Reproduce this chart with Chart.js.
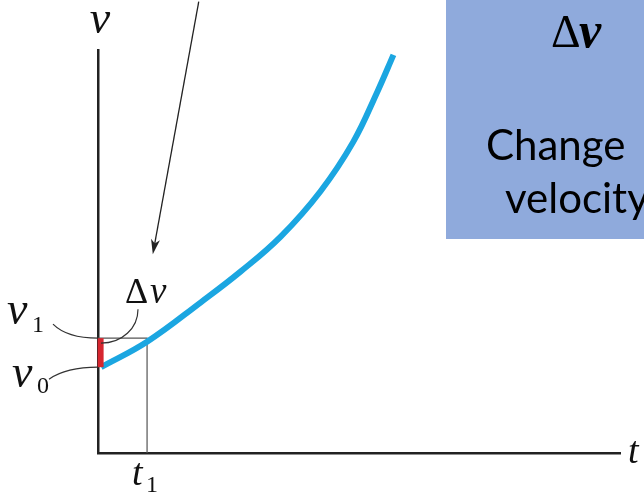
<!DOCTYPE html>
<html>
<head>
<meta charset="utf-8">
<script src="https://cdn.jsdelivr.net/npm/chart.js@4.4.0/dist/chart.umd.min.js"></script>
<style>
  html, body { margin: 0; padding: 0; background: #fff; }
  #wrap { width: 644px; height: 492px; }
</style>
</head>
<body>
<div id="wrap"><canvas id="velChart" width="644" height="492"></canvas></div>
<script>
// v(t) curve (arbitrary units)
const curveT = [0.06, 0.94, 1.97, 2.73, 3.50, 4.26, 4.89, 5.35, 5.66];
const curveV = [2.13, 2.76, 3.74, 4.50, 5.37, 6.49, 7.72, 8.96, 9.88];

const t1 = 0.94;
const v0 = 2.13;
const v1 = 2.85;

const tMax = 10;
const vMax = 10;

// arrow pointing down at the delta v (starts above the plot)
const arrowFrom = [1.93, 11.2];
const arrowTo = [1.05, 4.93];

const curvePts = curveT.map((t, i) => ({ x: t, y: curveV[i] }));

function mathText(ctx, txt, x, y, size, style) {
  ctx.font = (style || 'italic') + ' ' + size + 'px "Liberation Serif"';
  ctx.fillText(txt, x, y);
}

const labelsPlugin = {
  id: 'labels',
  beforeDraw(chart) {
    const ctx = chart.ctx;
    ctx.save();
    // side box
    ctx.fillStyle = '#8faadc';
    ctx.fillRect(446, 0, 198, 239);
    ctx.fillStyle = '#000';
    ctx.textBaseline = 'alphabetic';
    ctx.textAlign = 'left';
    mathText(ctx, 'Δ', 551, 47, 46, 'normal');
    mathText(ctx, 'v', 579, 47, 50, 'bold italic');
    ctx.font = '42px Lato';
    ctx.fillText('Change', 486, 160);
    ctx.fillText('velocity', 505, 213);
    ctx.restore();
  },
  afterDatasetsDraw(chart) {
    const ctx = chart.ctx;
    const xs = chart.scales.x, ys = chart.scales.y;
    const ax = xs.getPixelForValue(0);
    const pv0 = ys.getPixelForValue(v0);
    const pv1 = ys.getPixelForValue(v1);
    const pt1 = xs.getPixelForValue(t1);
    const base = ys.getPixelForValue(0);
    ctx.save();

    // arrow
    const x1 = xs.getPixelForValue(arrowFrom[0]), y1 = ys.getPixelForValue(arrowFrom[1]);
    const x2 = xs.getPixelForValue(arrowTo[0]), y2 = ys.getPixelForValue(arrowTo[1]);
    const ang = Math.atan2(y2 - y1, x2 - x1);
    ctx.strokeStyle = '#222';
    ctx.fillStyle = '#222';
    ctx.lineWidth = 1.3;
    ctx.beginPath();
    ctx.moveTo(x1, y1);
    ctx.lineTo(x2 - 10 * Math.cos(ang), y2 - 10 * Math.sin(ang));
    ctx.stroke();
    ctx.beginPath();
    ctx.moveTo(x2, y2);
    ctx.lineTo(x2 - 15 * Math.cos(ang) + 4.5 * Math.sin(ang), y2 - 15 * Math.sin(ang) - 4.5 * Math.cos(ang));
    ctx.lineTo(x2 - 11 * Math.cos(ang), y2 - 11 * Math.sin(ang));
    ctx.lineTo(x2 - 15 * Math.cos(ang) - 4.5 * Math.sin(ang), y2 - 15 * Math.sin(ang) + 4.5 * Math.cos(ang));
    ctx.closePath();
    ctx.fill();

    // leader curves
    ctx.strokeStyle = '#333';
    ctx.lineWidth = 1.2;
    ctx.beginPath();
    ctx.moveTo(ax - 45, pv1 - 14);
    ctx.bezierCurveTo(ax - 35, pv1 - 4, ax - 18, pv1, ax, pv1);
    ctx.stroke();
    ctx.beginPath();
    ctx.moveTo(ax - 49, pv0 + 12);
    ctx.bezierCurveTo(ax - 36, pv0 + 3, ax - 18, pv0, ax, pv0);
    ctx.stroke();
    ctx.beginPath();
    ctx.moveTo(ax + 40, pv1 - 29);
    ctx.bezierCurveTo(ax + 40, pv1 - 10, ax + 24, pv1 + 5, ax + 3, pv1 + 5);
    ctx.stroke();

    // labels
    ctx.fillStyle = '#111';
    ctx.textAlign = 'center';
    mathText(ctx, 'v', ax + 2, 33, 46);
    ctx.textAlign = 'left';
    mathText(ctx, 't', xs.right + 8, base + 10, 38);
    mathText(ctx, 'v', 7, pv1 - 14, 46);
    mathText(ctx, '1', 32, pv1 - 6, 24, 'normal');
    mathText(ctx, 'v', 12, pv0 + 20, 46);
    mathText(ctx, '0', 37, pv0 + 26, 24, 'normal');
    mathText(ctx, 'Δ', ax + 27, pv1 - 35, 36, 'normal');
    mathText(ctx, 'v', ax + 52, pv1 - 35, 37);
    mathText(ctx, 't', pt1 - 15, base + 32, 38);
    mathText(ctx, '1', pt1 - 1, base + 39, 24, 'normal');
    ctx.restore();
  }
};

new Chart(document.getElementById('velChart'), {
  type: 'line',
  data: {
    datasets: [
      {
        data: [{ x: 0.05, y: v0 }, { x: 0.05, y: v1 }],
        borderColor: '#d6262f',
        borderWidth: 6,
        borderCapStyle: 'butt',
        pointRadius: 0,
        clip: false,
        order: 0
      },
      {
        data: curvePts,
        borderColor: '#1ba6e1',
        borderWidth: 6,
        tension: 0.4,
        pointRadius: 0,
        clip: false,
        order: 1
      },
      {
        data: [{ x: 0, y: v1 }, { x: t1, y: v1 }, { x: t1, y: 0 }],
        borderColor: '#555',
        borderWidth: 1.2,
        pointRadius: 0,
        clip: false,
        order: 2
      }
    ]
  },
  options: {
    responsive: false,
    animation: false,
    layout: { padding: { left: 90, right: 24, top: 50, bottom: 31 } },
    plugins: { legend: { display: false }, tooltip: { enabled: false } },
    scales: {
      x: {
        type: 'linear', min: 0, max: tMax,
        grid: { display: false },
        ticks: { display: false },
        border: { display: true, color: '#222', width: 2.5 }
      },
      y: {
        type: 'linear', min: 0, max: vMax,
        grid: { display: false },
        ticks: { display: false },
        border: { display: true, color: '#222', width: 2.5 }
      }
    }
  },
  plugins: [labelsPlugin]
});
</script>
</body>
</html>
